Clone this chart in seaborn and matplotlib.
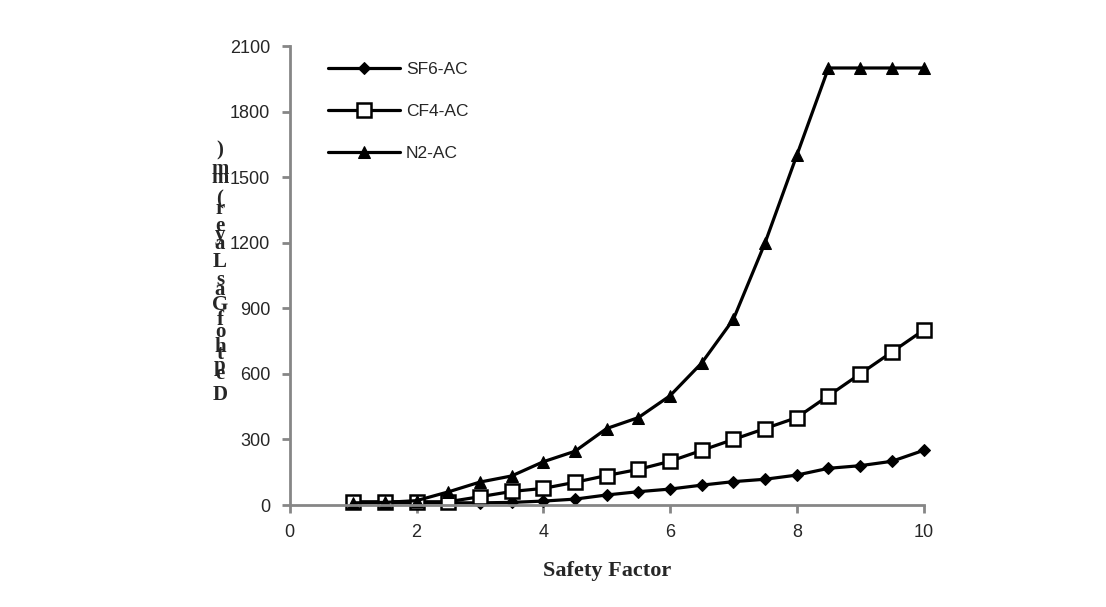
import pandas as pd
import matplotlib
matplotlib.use('Agg')
import matplotlib.pyplot as plt
import seaborn as sns

# Safety factor (x) and depth of gas layer (mm) for each gas
safety = [1, 1.5, 2, 2.5, 3, 3.5, 4, 4.5, 5, 5.5, 6, 6.5, 7, 7.5, 8, 8.5, 9, 9.5, 10]
sf6 = [10, 10, 10, 10, 10, 12, 18, 27, 46, 61, 73, 91, 107, 118, 137, 168, 180, 200, 250]
cf4 = [15, 15, 15, 15, 38, 62, 76, 104, 135, 163, 200, 250, 300, 350, 400, 500, 600, 700, 800]
n2 = [10, 12, 20, 60, 105, 133, 198, 246, 350, 400, 500, 650, 850, 1200, 1600, 2000, 2000, 2000, 2000]

series_names = ['SF6-AC', 'CF4-AC', 'N2-AC']
x_ticks = [0, 2, 4, 6, 8, 10]
y_ticks = [0, 300, 600, 900, 1200, 1500, 1800, 2100]
ylabel = 'Depth of Gas Layer (mm)'

sns.set_style('white')

fig = plt.figure(figsize=(11.06, 6.07), dpi=100)
ax = fig.add_axes([0.262, 0.168, 0.573, 0.756])

styles = {
    'SF6-AC': dict(marker='D', markersize=6, markerfacecolor='black', markeredgecolor='black'),
    'CF4-AC': dict(marker='s', markersize=10, markerfacecolor='white', markeredgecolor='black', markeredgewidth=1.8),
    'N2-AC': dict(marker='^', markersize=9, markerfacecolor='black', markeredgecolor='black'),
}

for name, vals in zip(series_names, [sf6, cf4, n2]):
    df = pd.DataFrame({'x': safety, 'y': vals})
    sns.lineplot(data=df, x='x', y='y', ax=ax, color='black', linewidth=2.3,
                 label=name, clip_on=False, **styles[name])

ax.set_xlim(0, 10)
ax.set_ylim(0, 2100)
ax.set_xticks(x_ticks)
ax.set_yticks(y_ticks)
ax.set_xticklabels([str(t) for t in x_ticks], fontsize=13, fontfamily='Liberation Sans')
ax.set_yticklabels([str(t) for t in y_ticks], fontsize=13, fontfamily='Liberation Sans')

gray = '#868686'
for s in ['top', 'right']:
    ax.spines[s].set_visible(False)
for s in ['left', 'bottom']:
    ax.spines[s].set_color(gray)
    ax.spines[s].set_linewidth(2)
ax.tick_params(axis='both', direction='out', length=6, width=2, color=gray,
               left=True, bottom=True, pad=8)
ax.set_xlabel('Safety Factor', fontsize=16, fontweight='bold',
              fontfamily='Liberation Serif', labelpad=14)
ax.set_ylabel('')

# The y label is drawn as upright letters stacked from bottom to top
letters = [c for c in ylabel if c != ' ']
y_px = [395, 374, 366, 354, 347, 332, 320, 305, 290, 280, 262, 244, 235, 226, 209, 199, 178, 169, 150]
for c, yp in zip(letters, y_px):
    fig.text(220 / 1106, 1 - yp / 607, c, fontsize=15, fontweight='bold',
             fontfamily='Liberation Serif', ha='center', va='center')

leg = ax.legend(loc='upper left', bbox_to_anchor=(0.035, 1.0), frameon=False,
                handlelength=4.2, labelspacing=1.55, handletextpad=0.3,
                prop={'family': 'Liberation Sans', 'size': 12.5})

fig.savefig('out.png', dpi=100)
